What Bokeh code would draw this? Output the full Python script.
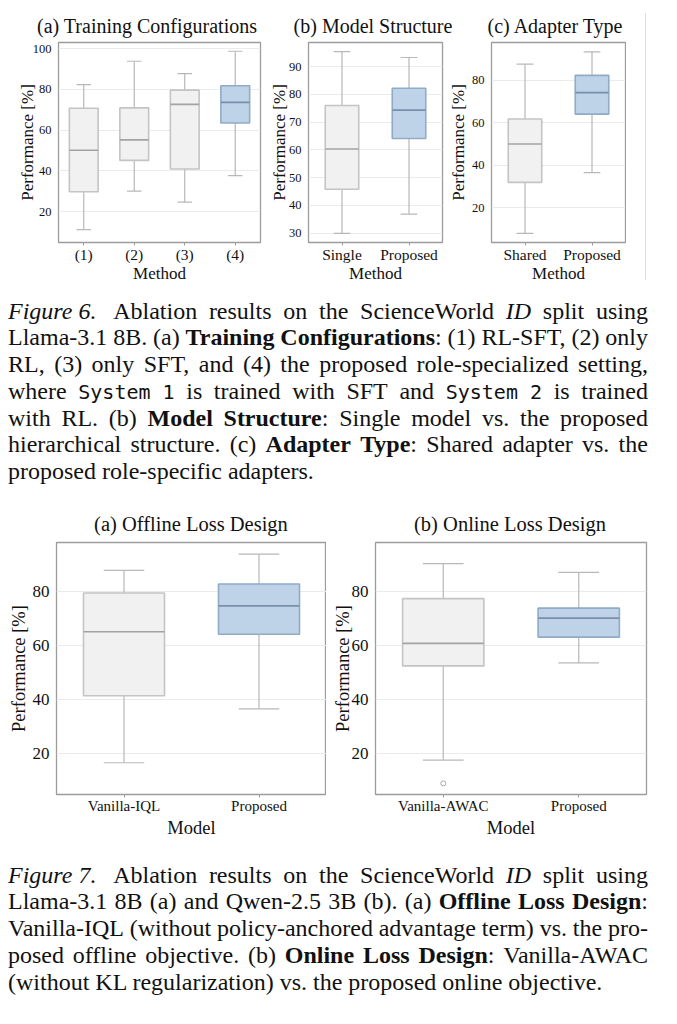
from bokeh.plotting import figure
from bokeh.models import ColumnDataSource, FactorRange, Range1d, FixedTicker, Div
from bokeh.transform import dodge
from bokeh.layouts import column, row
from bokeh.embed import file_html
from bokeh.resources import INLINE

# ---------------- data (performance %, box-plot summaries) ----------------
# Figure 6 (a) Training Configurations
f6a_methods = ["(1)", "(2)", "(3)", "(4)"]
f6a_low = [11.1, 30.0, 24.6, 37.6]
f6a_q1 = [29.7, 45.1, 40.9, 63.5]
f6a_med = [50.1, 55.2, 72.6, 73.6]
f6a_q3 = [70.7, 70.9, 79.6, 81.8]
f6a_high = [82.3, 93.8, 87.7, 98.7]
f6a_ticks = [20, 40, 60, 80, 100]

# Figure 6 (b) Model Structure
f6b_methods = ["Single", "Proposed"]
f6b_low = [29.9, 36.8]
f6b_q1 = [45.8, 64.1]
f6b_med = [60.3, 74.3]
f6b_q3 = [76.0, 82.2]
f6b_high = [95.4, 93.3]
f6b_ticks = [30, 40, 50, 60, 70, 80, 90]

# Figure 6 (c) Adapter Type
f6c_methods = ["Shared", "Proposed"]
f6c_low = [7.8, 36.5]
f6c_q1 = [31.9, 64.1]
f6c_med = [50.0, 74.2]
f6c_q3 = [61.8, 82.4]
f6c_high = [87.7, 93.5]
f6c_ticks = [20, 40, 60, 80]

# Figure 7 (a) Offline Loss Design
f7a_models = ["Vanilla-IQL", "Proposed"]
f7a_low = [16.7, 36.6]
f7a_q1 = [41.4, 64.1]
f7a_med = [65.0, 74.5]
f7a_q3 = [79.3, 82.6]
f7a_high = [87.6, 93.6]

# Figure 7 (b) Online Loss Design
f7b_models = ["Vanilla-AWAC", "Proposed"]
f7b_low = [17.7, 53.5]
f7b_q1 = [52.4, 63.0]
f7b_med = [60.7, 70.0]
f7b_q3 = [77.2, 73.7]
f7b_high = [90.1, 86.9]
f7b_out_model = ["Vanilla-AWAC"]
f7b_out_value = [9.1]
f7_ticks = [20, 40, 60, 80]

# panel titles
f6_titles = ["(a) Training Configurations", "(b) Model Structure", "(c) Adapter Type"]
f7_titles = ["(a) Offline Loss Design", "(b) Online Loss Design"]

# ---------------- styling ----------------
SERIF = "Liberation Serif"
GRAY_FILL, GRAY_EDGE, GRAY_MED = "#f1f1f1", "#c4c4c4", "#a3a3a3"
BLUE_FILL, BLUE_EDGE, BLUE_MED = "#bed3e8", "#90abc6", "#7790a9"
WHISKER = "#b8b8b8"
FRAME = "#9c9c9c"


def title_strip(titles, centers, top, width, height, size):
    """A strip above a row of panels that carries their titles,
    so a title may run wider than its own panel."""
    spans = "".join(
        f'<div style="position:absolute;left:{c - 160}px;top:{top}px;width:320px;'
        f'text-align:center;white-space:nowrap;">{t}</div>'
        for t, c in zip(titles, centers))
    html = (f'<div style="position:relative;width:{width}px;height:{height}px;'
            f'font-family:\'{SERIF}\';font-size:{size}px;line-height:{size}px;'
            f'color:#111;">{spans}</div>')
    return Div(text=html, width=width, height=height, margin=0)


def box_panel(cats, low, q1, med, q3, high, y_range, yticks, xlabel,
              width, height, borders, box_w, fonts, ylab_standoff, xlab_standoff,
              out_x=None, out_y=None):
    left, right, top, bottom = borders
    f_axlab, f_xtick, f_ytick = fonts
    p = figure(width=width, height=height,
               x_range=FactorRange(factors=cats, range_padding=0, factor_padding=0),
               y_range=Range1d(*y_range),
               output_backend="svg", toolbar_location=None,
               min_border_left=left, min_border_right=right,
               min_border_top=top, min_border_bottom=bottom)
    p.background_fill_color = "white"
    p.border_fill_color = "white"

    n = len(cats)
    src = ColumnDataSource(dict(
        cat=cats, low=low, q1=q1, med=med, q3=q3, high=high,
        fill=[BLUE_FILL if i == n - 1 else GRAY_FILL for i in range(n)],
        edge=[BLUE_EDGE if i == n - 1 else GRAY_EDGE for i in range(n)],
        medc=[BLUE_MED if i == n - 1 else GRAY_MED for i in range(n)],
    ))
    cap = box_w / 4.0
    half = box_w / 2.0
    # whiskers and caps
    p.segment(x0="cat", y0="q3", x1="cat", y1="high", source=src,
              line_color=WHISKER, line_width=1.2)
    p.segment(x0="cat", y0="q1", x1="cat", y1="low", source=src,
              line_color=WHISKER, line_width=1.2)
    for col in ("high", "low"):
        p.segment(x0=dodge("cat", -cap, range=p.x_range), y0=col,
                  x1=dodge("cat", cap, range=p.x_range), y1=col,
                  source=src, line_color=WHISKER, line_width=1.2)
    # boxes and medians
    p.vbar(x="cat", width=box_w, bottom="q1", top="q3", source=src,
           fill_color="fill", line_color="edge", line_width=1.6)
    p.segment(x0=dodge("cat", -half, range=p.x_range), y0="med",
              x1=dodge("cat", half, range=p.x_range), y1="med",
              source=src, line_color="medc", line_width=1.7)
    if out_x:
        p.scatter(x=out_x, y=out_y, marker="circle", size=5,
                  fill_color="white", line_color="#a8a8a8", line_width=1)

    # axes
    p.xaxis.axis_label = xlabel
    p.yaxis.axis_label = "Performance [%]"
    for ax in (p.xaxis[0], p.yaxis[0]):
        ax.axis_label_text_font = SERIF
        ax.axis_label_text_font_style = "normal"
        ax.axis_label_text_font_size = f"{f_axlab}px"
        ax.axis_label_text_color = "#111111"
        ax.major_label_text_font = SERIF
        ax.major_label_text_color = "#111111"
        ax.axis_line_color = None
        ax.minor_tick_line_color = None
    p.xaxis.major_label_text_font_size = f"{f_xtick}px"
    p.yaxis.major_label_text_font_size = f"{f_ytick}px"
    p.xaxis.major_tick_line_color = FRAME
    p.xaxis.major_tick_in = 0
    p.xaxis.major_tick_out = 3
    p.xaxis.major_label_standoff = 0
    p.xaxis.axis_label_standoff = xlab_standoff
    p.yaxis.major_tick_line_color = None
    p.yaxis.major_tick_in = 0
    p.yaxis.major_tick_out = 0
    p.yaxis.major_label_standoff = 7
    p.yaxis.axis_label_standoff = ylab_standoff
    p.yaxis.ticker = FixedTicker(ticks=yticks)

    p.xgrid.grid_line_color = None
    p.ygrid.grid_line_color = "#ebebeb"
    p.ygrid.grid_line_width = 1
    p.outline_line_color = FRAME
    p.outline_line_width = 1.3
    return p


FONTS_TOP = (17, 15.5, 12.5)
FONTS_BOTTOM = (18.5, 15, 17)

# ---------------- Figure 6 ----------------
f6a = box_panel(f6a_methods, f6a_low, f6a_q1, f6a_med, f6a_q3, f6a_high,
                (4.8, 103), f6a_ticks, "Method",
                262, 250, (58, 2, 2, 48), 0.57, FONTS_TOP, -7, -2)
f6b = box_panel(f6b_methods, f6b_low, f6b_q1, f6b_med, f6b_q3, f6b_high,
                (26.6, 98.7), f6b_ticks, "Method",
                182, 250, (46, 2, 2, 48), 0.5, FONTS_TOP, -3, -2)
f6c = box_panel(f6c_methods, f6c_low, f6c_q1, f6c_med, f6c_q3, f6c_high,
                (3.5, 97.9), f6c_ticks, "Method",
                182, 250, (47, 1, 2, 48), 0.5, FONTS_TOP, 1, -2)
t6 = title_strip(f6_titles, [147, 373, 555], 16, 626, 40, 20)
rule = Div(width=51, height=290, margin=0, text=(
    '<div style="position:relative;width:51px;height:290px;">'
    '<div style="position:absolute;left:19px;top:13px;width:0;height:267px;'
    'border-left:1.5px solid #dedede;"></div></div>'))
fig6 = row(column(t6, row(f6a, f6b, f6c, spacing=0), spacing=0), rule, spacing=0)

# ---------------- Figure 7 ----------------
f7a = box_panel(f7a_models, f7a_low, f7a_q1, f7a_med, f7a_q3, f7a_high,
                (5.0, 97.9), f7_ticks, "Model",
                326, 310, (56, 0, 2, 56), 0.6, FONTS_BOTTOM, 1, 1)
f7b = box_panel(f7b_models, f7b_low, f7b_q1, f7b_med, f7b_q3, f7b_high,
                (5.0, 97.9), f7_ticks, "Model",
                351, 310, (49, 31, 2, 56), 0.6, FONTS_BOTTOM, -4, 1,
                out_x=f7b_out_model, out_y=f7b_out_value)
t7 = title_strip(f7_titles, [191, 510], 24, 677, 50, 20.5)
fig7 = column(t7, row(f7a, f7b, spacing=0), spacing=0)

# ---------------- captions (justified lines) ----------------
def mono(s):
    return ('<span style="font-family:\'DejaVu Sans Mono\';font-size:20px;'
            f'white-space:pre">{s}</span>')


def fig_label(s):
    return f'<span style="margin-right:5px"><i>{s}</i></span>'


cap6_lines = [
    [fig_label("Figure 6."), "Ablation", "results", "on", "the", "ScienceWorld", "<i>ID</i>", "split", "using"],
    ["Llama-3.1", "8B.", "(a)", "<b>Training</b>", "<b>Configurations</b>:", "(1)", "RL-SFT,", "(2)", "only"],
    ["RL,", "(3)", "only", "SFT,", "and", "(4)", "the", "proposed", "role-specialized", "setting,"],
    ["where", mono("System 1"), "is", "trained", "with", "SFT", "and", mono("System 2"), "is", "trained"],
    ["with", "RL.", "(b)", "<b>Model</b>", "<b>Structure</b>:", "Single", "model", "vs.", "the", "proposed"],
    ["hierarchical", "structure.", "(c)", "<b>Adapter</b>", "<b>Type</b>:", "Shared", "adapter", "vs.", "the"],
]
cap6_last = "proposed role-specific adapters."

cap7_lines = [
    [fig_label("Figure 7."), "Ablation", "results", "on", "the", "ScienceWorld", "<i>ID</i>", "split", "using"],
    ["Llama-3.1", "8B", "(a)", "and", "Qwen-2.5", "3B", "(b).", "(a)", "<b>Offline</b>", "<b>Loss</b>", "<b>Design</b>:"],
    ["Vanilla-IQL", "(without", "policy-anchored", "advantage", "term)", "vs.", "the", "pro-"],
    ["posed", "offline", "objective.", "(b)", "<b>Online</b>", "<b>Loss</b>", "<b>Design</b>:", "Vanilla-AWAC"],
]
cap7_last = "(without KL regularization) vs. the proposed online objective."

LINE_H = 26.8


def caption_div(lines, last, top_pad, height):
    parts = []
    for words in lines:
        items = "".join(f"<span>{w}</span>" for w in words)
        parts.append('<div style="display:flex;justify-content:space-between;'
                     f'width:640px;height:{LINE_H}px;white-space:nowrap;">{items}</div>')
    parts.append(f'<div style="height:{LINE_H}px;white-space:nowrap;">{last}</div>')
    html = (f'<div style="width:677px;height:{height}px;box-sizing:border-box;'
            f'padding:{top_pad}px 0 0 8px;font-family:\'Liberation Serif\';'
            f'font-size:24px;line-height:{LINE_H}px;color:#111;">' + "".join(parts) + "</div>")
    return Div(text=html, width=677, height=height, margin=0)


cap6 = caption_div(cap6_lines, cap6_last, 7.5, 200)
cap7 = caption_div(cap7_lines, cap7_last, 11.5, 174)

layout = column(fig6, cap6, fig7, cap7, spacing=0)

open("out.html", "w").write(file_html(layout, INLINE))
